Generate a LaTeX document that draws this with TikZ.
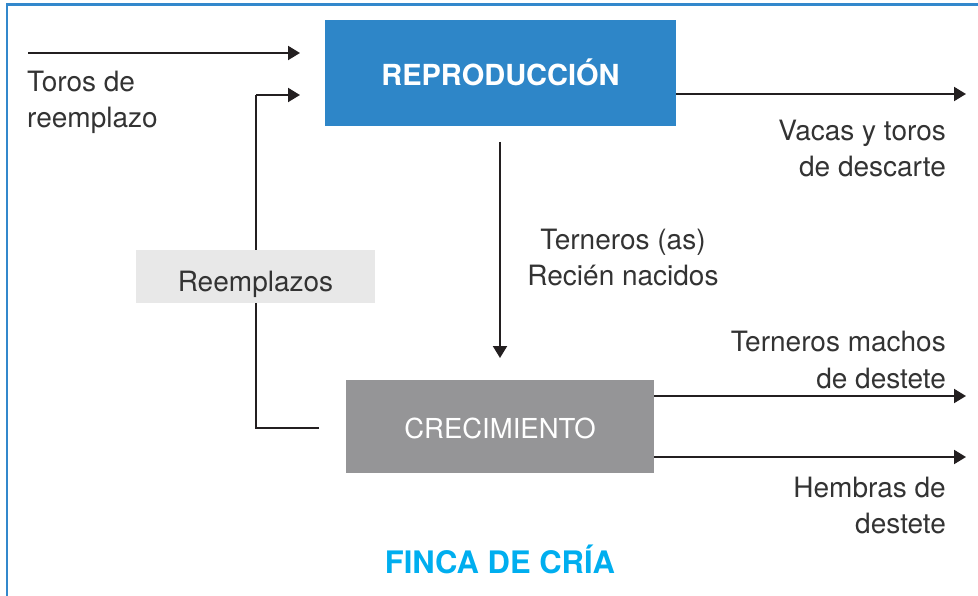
\documentclass[tikz,border=0pt]{standalone}
\usepackage{fontspec}
\setmainfont{TeX Gyre Heros}
\usetikzlibrary{arrows.meta}
\definecolor{repblue}{HTML}{2E86C8}
\definecolor{frameblue}{HTML}{3388CC}
\definecolor{crecgray}{HTML}{959597}
\definecolor{reemgray}{HTML}{E8E8E8}
\definecolor{titlecyan}{HTML}{00AEEF}
\definecolor{txt}{HTML}{333333}
\definecolor{linec}{HTML}{231F20}
\tikzset{
  flow/.style={draw=linec, line width=2pt, -{Triangle[length=12pt,width=14pt]}},
  plain/.style={draw=linec, line width=2pt},
  lbl/.style={inner sep=0pt, text=txt, font=\fontsize{28}{36}\selectfont},
}
\begin{document}
\begin{tikzpicture}[x=1pt,y=-1pt]
\useasboundingbox (0,0) rectangle (978,596);
\draw[frameblue, line width=2.2pt] (7,596) -- (7,4.5) -- (978,4.5);
% boxes
\node[fill=repblue, minimum width=351pt, minimum height=106pt, inner sep=0pt,
      text height=26pt, text depth=0pt,
      text=white, font=\fontsize{29}{30}\selectfont\bfseries] (rep) at (500.5,73) {REPRODUCCIÓN};
\coordinate (lbend) at (256,428);
\coordinate (lcorner) at (256,95);
\draw[plain] (319,428) -- (lbend) -- (lcorner);
\coordinate (reIn) at (300,95);
\draw[flow] (lcorner) -- (reIn);
\node[fill=crecgray, minimum width=308pt, minimum height=93pt, inner sep=0pt,
      text height=23pt, text depth=0pt,
      text=white, font=\fontsize{27.5}{30}\selectfont] (crec) at (500,426.5) {CRECIMIENTO};
\node[fill=reemgray, minimum width=239pt, minimum height=53pt, inner sep=0pt,
      text height=31pt, text depth=0pt,
      text=txt, font=\fontsize{28}{30}\selectfont] (reem) at (255.5,276.5) {Reemplazos};
% arrows
\coordinate (inStart) at (28,53);
\coordinate (inEnd) at (300,53);
\draw[flow] (inStart) -- (inEnd);
\coordinate (outRep) at (966,94);
\draw[flow] (rep.east |- outRep) -- (outRep);
\coordinate (downStart) at (500,142);
\coordinate (downEnd) at (500,358);
\draw[flow] (downStart) -- (downEnd);
\coordinate (outM) at (966,396);
\coordinate (outH) at (966,457);
\draw[flow] (crec.east |- outM) -- (outM);
\draw[flow] (crec.east |- outH) -- (outH);
% labels (base anchor = baseline of last line)
\node[lbl, anchor=base west, align=left] (toros) at (27,128) {Toros de\\reemplazo};
\node[lbl, anchor=base east, align=right] (vacas) at (946,177) {Vacas y toros\\de descarte};
\node[lbl, anchor=base, align=center] (tern) at (623,286) {Terneros (as)\\Recién nacidos};
\node[lbl, anchor=base east, align=right] (machos) at (946,388) {Terneros machos\\de destete};
\node[lbl, anchor=base east, align=right] (hembras) at (946,533) {Hembras de\\destete};
\node[inner sep=0pt, anchor=base, text=titlecyan, font=\fontsize{31}{32}\selectfont\bfseries] (title) at (500,573) {FINCA DE CRÍA};
\end{tikzpicture}
\end{document}
